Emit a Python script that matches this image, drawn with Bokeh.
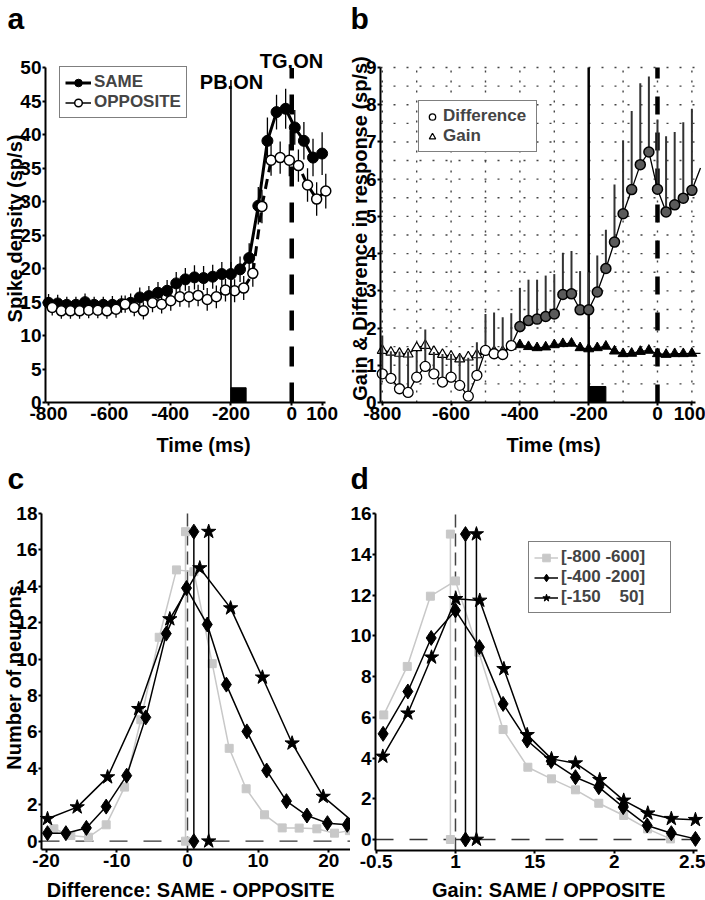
from math import pi
from bokeh.plotting import figure
from bokeh.layouts import column, row
from bokeh.models import Range1d, FixedTicker, Label, Legend, LegendItem
from bokeh.embed import file_html
from bokeh.resources import INLINE

FONT = "Liberation Sans"
NAN = float("nan")

# ---------------- Panel a: spike density ----------------
a_same_t = [-800, -770, -740, -710, -680, -650, -620, -590, -560, -530, -500, -470, -440, -410, -380,
            -350, -320, -290, -260, -230, -200, -170, -140, -110, -80, -50, -20, 10, 40, 70, 100]
a_same_v = [14.9, 14.8, 14.6, 14.6, 15.0, 14.6, 14.6, 14.6, 14.7, 14.9, 15.7, 15.9, 16.4, 16.7, 17.8,
            18.4, 18.7, 18.6, 18.8, 19.2, 19.2, 19.9, 21.6, 29.4, 39.1, 43.4, 43.9, 41.1, 39.1, 36.6, 37.2]
a_same_se = [1.3, 1.3, 1.2, 1.2, 1.3, 1.2, 1.2, 1.3, 1.3, 1.4, 1.5, 1.5, 1.6, 1.6, 1.7,
             1.7, 1.8, 1.8, 1.8, 1.8, 1.8, 1.9, 2.2, 2.8, 3.5, 2.6, 3.0, 2.6, 2.8, 2.8, 3.2]
a_opp_t = [-788, -758, -728, -698, -668, -638, -608, -578, -548, -518, -488, -458, -428, -398, -368,
           -338, -308, -278, -248, -218, -188, -158, -128, -98, -68, -38, -8, 22, 52, 82, 112]
a_opp_v = [14.2, 13.7, 13.7, 13.7, 13.8, 13.8, 13.7, 13.95, 14.7, 14.2, 13.7, 14.9, 14.7, 15.2, 15.8,
           15.8, 16.0, 15.4, 15.8, 16.8, 16.7, 17.1, 19.3, 29.3, 36.2, 36.6, 36.2, 35.4, 32.5, 30.4, 31.6]
a_opp_se = [1.2, 1.2, 1.2, 1.2, 1.2, 1.2, 1.2, 1.3, 1.3, 1.3, 1.3, 1.4, 1.4, 1.5, 1.5,
            1.6, 1.6, 1.7, 1.7, 1.7, 1.7, 1.8, 2.0, 2.5, 2.3, 2.4, 2.4, 2.4, 2.5, 2.5, 2.6]
a_xticks = [-800, -600, -400, -200, 0, 100]
a_yticks = list(range(0, 51, 5))
pb_on, tg_on = -200, 0
pb_bar = [-200, -150]

# ---------------- Panel b: difference & gain ----------------
b_t = [-800, -775, -750, -725, -700, -675, -650, -625, -600, -575, -550, -525, -500, -475, -450, -425,
       -400, -375, -350, -325, -300, -275, -250, -225, -200, -175, -150, -125, -100, -75, -50, -25,
       0, 25, 50, 75, 100, 125]
b_diff_v = [0.77, 0.65, 0.37, 0.27, 0.68, 0.97, 0.77, 0.55, 0.68, 0.46, 0.17, 0.73, 1.40, 1.31, 1.29, 1.53,
            2.04, 2.20, 2.24, 2.31, 2.38, 2.90, 2.92, 2.49, 2.49, 2.97, 3.60, 4.31, 5.07, 5.72, 6.39, 6.73,
            5.73, 5.12, 5.31, 5.49, 5.70, 6.30]
b_diff_top = [1.80, 1.38, 1.37, 1.37, 1.35, 1.96, 1.36, 1.30, 1.30, 1.30, 1.20, 1.62, 2.38, 2.42, 2.29, 2.40,
              3.08, 3.30, 3.30, 3.41, 3.45, 4.02, 4.07, 3.53, 3.50, 3.95, 4.64, 5.86, 7.04, 7.83, 8.58, 8.76,
              7.60, 7.15, 7.27, 7.53, 7.89, 8.30]
b_gain_v = [1.40, 1.35, 1.32, 1.30, 1.47, 1.53, 1.37, 1.29, 1.24, 1.17, 1.22, 1.28, 1.37, 1.37, 1.37, 1.51,
            1.55, 1.50, 1.47, 1.49, 1.55, 1.58, 1.59, 1.47, 1.44, 1.47, 1.51, 1.38, 1.31, 1.32, 1.37, 1.40,
            1.31, 1.29, 1.31, 1.31, 1.32, 1.32]
b_gain_se = [0.14, 0.12, 0.12, 0.12, 0.13, 0.14, 0.12, 0.12, 0.12, 0.12, 0.12, 0.12, 0.10, 0.10, 0.10, 0.08,
             0.08, 0.08, 0.08, 0.08, 0.08, 0.08, 0.08, 0.07, 0.07, 0.07, 0.07, 0.07, 0.07, 0.07, 0.07, 0.07,
             0.07, 0.07, 0.07, 0.07, 0.07, 0.07]
b_diff_open_n = 16      # first points drawn as open circles
b_gain_open_n = 15      # first points drawn as open triangles
b_shown_n = 37          # points up to 100 ms get markers (125 ms lies past the axis)
b_yticks = list(range(0, 10))
b_grid_x = list(range(-800, 101, 100))
b_grid_y = [0.5 * i for i in range(1, 19)]

# ---------------- Panel c: histograms of difference ----------------
c_early_x = [-18.9, -16.5, -14.0, -11.5, -8.9, -6.6, -4.0, -1.56, 0.9, 3.5, 5.9, 8.3, 10.9, 13.4, 15.8, 18.3, 20.8, 22.9]
c_early_y = [0.68, 0.31, 0.22, 0.9, 2.97, 6.67, 11.2, 14.9, 14.8, 9.75, 5.1, 2.88, 1.45, 0.73, 0.72, 0.68, 0.44, 0.58]
c_mid_x = [-19.8, -17.2, -14.3, -11.5, -8.6, -5.9, -3.0, -0.14, 2.8, 5.5, 8.4, 11.2, 14.0, 16.9, 19.8, 22.6]
c_mid_y = [0.44, 0.44, 0.73, 1.9, 3.6, 6.8, 11.4, 13.9, 11.9, 8.6, 6.03, 3.88, 2.2, 1.41, 0.99, 0.9]
c_late_x = [-19.8, -15.6, -11.3, -6.9, -2.5, 1.74, 6.1, 10.6, 14.8, 19.2, 23.5]
c_late_y = [1.23, 1.87, 3.52, 7.27, 12.2, 15.0, 12.8, 9.0, 5.38, 2.45, 1.04]
c_means = [-0.28, 0.9, 3.0]          # early, mid, late
c_mean_top = 17
c_xticks = [-20, -10, 0, 10, 20]
c_yticks = list(range(0, 19, 2))

# ---------------- Panel d: histograms of gain ----------------
d_early_x = [0.548, 0.696, 0.842, 1.0, 1.147, 1.30, 1.456, 1.605, 1.756, 1.903, 2.06, 2.21, 2.355]
d_early_y = [6.12, 8.5, 11.95, 12.7, 9.2, 5.4, 3.55, 2.98, 2.44, 1.78, 1.18, 0.52, 0.03]
d_mid_x = [0.544, 0.70, 0.847, 1.0, 1.151, 1.30, 1.452, 1.603, 1.756, 1.903, 2.057, 2.208, 2.36, 2.512]
d_mid_y = [5.19, 7.27, 9.9, 11.25, 9.45, 6.66, 4.86, 3.85, 3.06, 2.57, 1.59, 0.69, 0.31, 0.03]
d_late_x = [0.542, 0.70, 0.849, 1.002, 1.153, 1.305, 1.452, 1.605, 1.756, 1.909, 2.06, 2.212, 2.36, 2.512]
d_late_y = [4.08, 6.2, 8.95, 11.82, 11.74, 8.38, 5.14, 3.96, 3.75, 2.93, 1.92, 1.29, 1.02, 0.97]
d_means = [0.968, 1.063, 1.132]
d_mean_top = 15
d_xticks = [0.5, 1, 1.5, 2, 2.5]
d_xlabels = {0.5: "-0.5", 1: "1", 1.5: "15", 2: "2", 2.5: "2.5"}
d_yticks = list(range(0, 17, 2))

legend_labels_d = ["[-800 -600]", "[-400 -200]", "[-150    50]"]

# ---------------- geometry: picture pixels of each panel's axes box & its canvas ----------------
GEOM = {
    "a": dict(fx=(45, 325), xr=(-810.1, 111.1), fy=(402, 44), yr=(0, 53.5), canvas=(0, 350, 0, 457)),
    "b": dict(fx=(380, 695), xr=(-805.2, 110.5), fy=(402, 67), yr=(0, 9), canvas=(350, 705, 0, 457)),
    "c": dict(fx=(41, 350), xr=(-20.65, 23.06), fy=(849, 500), yr=(-0.456, 18.71), canvas=(0, 350, 457, 900)),
    "d": dict(fx=(375, 697), xr=(0.496, 2.525), fy=(850, 500), yr=(-0.54, 16.65), canvas=(350, 705, 457, 900)),
}


def dx(k, px):
    g = GEOM[k]
    (f0, f1), (r0, r1) = g["fx"], g["xr"]
    return r0 + (px - f0) * (r1 - r0) / (f1 - f0)


def dy(k, py):
    g = GEOM[k]
    (b, t), (r0, r1) = g["fy"], g["yr"]
    return r0 + (b - py) * (r1 - r0) / (b - t)


GRAY = "#c8c8c8"


def base_fig(k, xticks, yticks, ybounds, xlabels=None):
    g = GEOM[k]
    cl, cr, ct, cb = g["canvas"]
    p = figure(width=cr - cl, height=cb - ct,
               x_range=Range1d(dx(k, cl), dx(k, cr)), y_range=Range1d(dy(k, cb), dy(k, ct)),
               output_backend="svg", toolbar_location=None,
               min_border_left=0, min_border_right=0, min_border_top=0, min_border_bottom=0)
    p.outline_line_color = None
    p.background_fill_color = "white"
    p.border_fill_color = "white"
    p.xgrid.grid_line_color = None
    p.ygrid.grid_line_color = None
    p.xaxis.fixed_location = g["yr"][0]
    p.yaxis.fixed_location = g["xr"][0]
    p.xaxis.bounds = g["xr"]
    p.yaxis.bounds = ybounds
    p.xaxis.ticker = FixedTicker(ticks=xticks)
    p.yaxis.ticker = FixedTicker(ticks=yticks)
    p.xaxis.major_label_overrides = xlabels if xlabels else {t: str(t) for t in xticks}
    for ax in (p.xaxis[0], p.yaxis[0]):
        ax.axis_line_width = 2
        ax.axis_line_color = "black"
        ax.major_tick_line_width = 2
        ax.major_tick_line_color = "black"
        ax.major_tick_out = 3
        ax.major_tick_in = 0
        ax.minor_tick_line_color = None
        ax.major_label_text_font = FONT
        ax.major_label_text_font_size = "19px"
        ax.major_label_text_font_style = "bold"
        ax.major_label_text_color = "black"
    p.xaxis.major_label_standoff = 1
    p.yaxis.major_label_standoff = 1
    return p


def add_text(p, k, text, px, py, size=20, align="center", angle=0.0, rotated=False):
    """py is the text baseline (horizontal text) or px the vertical centre line (rotated text)."""
    if rotated:
        x, y = dx(k, px), dy(k, py)
    else:
        x, y = dx(k, px), dy(k, py - 0.3465 * size)
    p.add_layout(Label(x=x, y=y, text=text, text_font=FONT, text_font_size=f"{size}px",
                       text_font_style="bold", text_color="black", text_align=align,
                       text_baseline="middle", angle=angle))


def legend(items, loc, label_width, glyph_width):
    leg = Legend(items=items, location=loc, padding=5, spacing=0, glyph_width=glyph_width,
                 glyph_height=19, label_height=19, label_width=label_width, label_standoff=3)
    leg.label_text_font = FONT
    leg.label_text_font_size = "17px"
    leg.label_text_font_style = "bold"
    leg.border_line_color = "black"
    leg.border_line_width = 1.5
    leg.background_fill_alpha = 1.0
    return leg


# ======================= Panel a =======================
pa = base_fig("a", a_xticks, a_yticks, (0, 50))

s_lo = [v - e for v, e in zip(a_same_v, a_same_se)]
s_hi = [v + e for v, e in zip(a_same_v, a_same_se)]
o_lo = [v - e for v, e in zip(a_opp_v, a_opp_se)]
o_hi = [v + e for v, e in zip(a_opp_v, a_opp_se)]

same_line = pa.line(a_same_t, a_same_v, line_color="black", line_width=3)
pa.segment(a_same_t, s_lo, a_same_t, s_hi, line_color="black", line_width=1.3)
same_pts = pa.scatter(a_same_t, a_same_v, marker="circle", size=11, fill_color="black", line_color="black")
pa.line(a_opp_t, a_opp_v, line_color="black", line_width=3, line_dash="10 7")
pa.segment(a_opp_t, o_lo, a_opp_t, o_hi, line_color="black", line_width=1.3)
opp_pts = pa.scatter(a_opp_t, a_opp_v, marker="circle", size=10, fill_color="white", line_color="black",
                     line_width=1.5)
opp_leg_line = pa.line([NAN], [NAN], line_color="black", line_width=1.5)   # legend sample only

pa.segment([pb_on], [0], [pb_on], [48.2], line_color="black", line_width=1.6)
pa.segment([tg_on], [0], [tg_on], [50], line_color="black", line_width=4.5, line_dash="20 16")
pa.quad(left=[pb_bar[0]], right=[pb_bar[1]], bottom=[0], top=[2.2], fill_color="black", line_color="black")

pa.add_layout(legend([LegendItem(label="SAME", renderers=[same_line, same_pts]),
                      LegendItem(label="OPPOSITE", renderers=[opp_leg_line, opp_pts])],
                     (59, 339), 20, 26))

add_text(pa, "a", "a", 7, 28, size=30, align="left")
add_text(pa, "a", "PB.ON", 231, 88)
add_text(pa, "a", "TG.ON", 291, 67)
add_text(pa, "a", "Spike density (sp/s)", 14, 228, angle=pi / 2, rotated=True)
add_text(pa, "a", "Time (ms)", 203, 451)

# ======================= Panel b =======================
pb = base_fig("b", a_xticks, b_yticks, (0, 9))
xr0, xr1 = GEOM["b"]["xr"]
pb.segment(b_grid_x, [0] * len(b_grid_x), b_grid_x, [9] * len(b_grid_x),
           line_color="#444444", line_width=1.4, line_dash="2 8")
pb.segment([xr0] * len(b_grid_y), b_grid_y, [xr1] * len(b_grid_y), b_grid_y,
           line_color="#444444", line_width=1.4, line_dash="2 11")

pb.segment([pb_on], [0], [pb_on], [9], line_color="black", line_width=2.5)
pb.segment([tg_on], [0], [tg_on], [9], line_color="black", line_width=4.5, line_dash="18 18")
pb.quad(left=[pb_bar[0]], right=[pb_bar[1]], bottom=[0], top=[0.43], fill_color="black", line_color="black")

m = b_shown_n
g_lo = [v - e for v, e in zip(b_gain_v[:m], b_gain_se[:m])]
g_hi = [v + e for v, e in zip(b_gain_v[:m], b_gain_se[:m])]
pb.segment(b_t[:m], g_lo, b_t[:m], g_hi, line_color="black", line_width=1.5)
pb.line(b_t, b_gain_v, line_color="black", line_width=1.3)
n = b_gain_open_n
gain_open = pb.scatter(b_t[:n], b_gain_v[:n], marker="triangle", size=10, fill_color="white",
                       line_color="black", line_width=1.2)
pb.scatter(b_t[n:m], b_gain_v[n:m], marker="triangle", size=10, fill_color="black", line_color="black")

pb.segment(b_t[:m], b_diff_v[:m], b_t[:m], b_diff_top[:m], line_color="#333333", line_width=2)
pb.line(b_t, b_diff_v, line_color="black", line_width=1.3)
n = b_diff_open_n
diff_open = pb.scatter(b_t[:n], b_diff_v[:n], marker="circle", size=10, fill_color="white",
                       line_color="black", line_width=1.3)
pb.scatter(b_t[n:m], b_diff_v[n:m], marker="circle", size=10, fill_color="#5a5a5a", line_color="black",
           line_width=1.5)

pb.add_layout(legend([LegendItem(label="Difference", renderers=[diff_open]),
                      LegendItem(label="Gain", renderers=[gain_open])],
                     (68, 305), 88, 16))

add_text(pb, "b", "b", 350, 28, size=30, align="left")
add_text(pb, "b", "Gain & Difference in response (sp/s)", 359, 228, angle=pi / 2, rotated=True)
add_text(pb, "b", "Time (ms)", 553, 451)

# ======================= Panel c =======================
c_y0 = GEOM["c"]["yr"][0]
pc = base_fig("c", c_xticks, c_yticks, (c_y0, 18))
cx0, cx1 = GEOM["c"]["xr"]
pc.segment([cx0], [0], [cx1], [0], line_color="#333333", line_width=1.3, line_dash="18 16")
pc.segment([0], [c_y0], [0], [18], line_color="#444444", line_width=1.5, line_dash="13 6")

pc.line(c_early_x, c_early_y, line_color=GRAY, line_width=1.5)
pc.segment([c_means[0]], [0], [c_means[0]], [c_mean_top], line_color=GRAY, line_width=1.5)
pc.scatter(c_early_x, c_early_y, marker="square", size=8, fill_color=GRAY, line_color=GRAY)
pc.scatter([c_means[0], c_means[0]], [0, c_mean_top], marker="square", size=8, fill_color=GRAY, line_color=GRAY)

pc.line(c_mid_x, c_mid_y, line_color="black", line_width=1.5)
pc.segment([c_means[1]], [0], [c_means[1]], [c_mean_top], line_color="black", line_width=1.5)
pc.scatter(c_mid_x, c_mid_y, marker="diamond", size=15, fill_color="black", line_color="black")
pc.scatter([c_means[1], c_means[1]], [0, c_mean_top], marker="diamond", size=15, fill_color="black",
           line_color="black")

pc.line(c_late_x, c_late_y, line_color="black", line_width=1.5)
pc.segment([c_means[2]], [0], [c_means[2]], [c_mean_top], line_color="black", line_width=1.5)
pc.scatter(c_late_x, c_late_y, marker="star", size=15, fill_color="black", line_color="black")
pc.scatter([c_means[2], c_means[2]], [0, c_mean_top], marker="star", size=15, fill_color="black",
           line_color="black")

add_text(pc, "c", "c", 7, 488, size=30, align="left")
add_text(pc, "c", "Number of neurons", 13, 677, angle=pi / 2, rotated=True)
add_text(pc, "c", "Difference:  SAME - OPPOSITE", 193, 896)

# ======================= Panel d =======================
d_y0 = GEOM["d"]["yr"][0]
pdd = base_fig("d", d_xticks, d_yticks, (d_y0, 16), xlabels=d_xlabels)
dx0, dx1 = GEOM["d"]["xr"]
pdd.segment([dx0], [0], [dx1], [0], line_color="#333333", line_width=1.3, line_dash="18 16")
pdd.segment([1], [d_y0], [1], [16], line_color="#444444", line_width=1.5, line_dash="13 6")

e_line = pdd.line(d_early_x, d_early_y, line_color=GRAY, line_width=1.5)
pdd.segment([d_means[0]], [0], [d_means[0]], [d_mean_top], line_color=GRAY, line_width=1.5)
e_pts = pdd.scatter(d_early_x, d_early_y, marker="square", size=8, fill_color=GRAY, line_color=GRAY)
pdd.scatter([d_means[0], d_means[0]], [0, d_mean_top], marker="square", size=8, fill_color=GRAY, line_color=GRAY)

m_line = pdd.line(d_mid_x, d_mid_y, line_color="black", line_width=1.5)
pdd.segment([d_means[1]], [0], [d_means[1]], [d_mean_top], line_color="black", line_width=1.5)
m_pts = pdd.scatter(d_mid_x, d_mid_y, marker="diamond", size=15, fill_color="black", line_color="black")
pdd.scatter([d_means[1], d_means[1]], [0, d_mean_top], marker="diamond", size=15, fill_color="black",
            line_color="black")

l_line = pdd.line(d_late_x, d_late_y, line_color="black", line_width=1.5)
pdd.segment([d_means[2]], [0], [d_means[2]], [d_mean_top], line_color="black", line_width=1.5)
l_pts = pdd.scatter(d_late_x, d_late_y, marker="star", size=15, fill_color="black", line_color="black")
pdd.scatter([d_means[2], d_means[2]], [0, d_mean_top], marker="star", size=15, fill_color="black",
            line_color="black")

pdd.add_layout(legend([LegendItem(label=legend_labels_d[0], renderers=[e_line, e_pts]),
                       LegendItem(label=legend_labels_d[1], renderers=[m_line, m_pts]),
                       LegendItem(label=legend_labels_d[2], renderers=[l_line, l_pts])],
                      (178, 287), 104, 24))

add_text(pdd, "d", "d", 350, 488, size=30, align="left")
add_text(pdd, "d", "Gain:  SAME / OPPOSITE", 551, 896)

layout = column(row(pa, pb), row(pc, pdd))
open("out.html", "w").write(file_html(layout, INLINE))
